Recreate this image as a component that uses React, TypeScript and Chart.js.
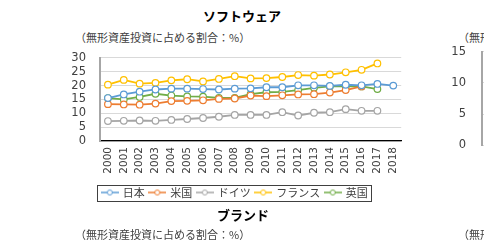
import React, { useEffect, useRef } from "react";
import { Chart, registerables } from "chart.js";
Chart.register(...registerables);

const years = ["2000","2001","2002","2003","2004","2005","2006","2007","2008","2009","2010","2011","2012","2013","2014","2015","2016","2017","2018"];
const japan = [15.5,16.8,17.8,18.6,18.9,18.9,18.75,18.6,18.9,19.0,19.4,19.4,20.1,20.1,19.9,20.3,20.1,20.6,20.0];
const usa = [13.3,13.2,13.1,13.5,14.4,14.5,14.7,15.2,15.35,16.4,16.2,16.5,16.8,16.9,17.5,18.4,19.7,null,null];
const germany = [7.2,7.3,7.4,7.3,7.6,7.95,8.3,8.75,9.4,9.4,9.4,10.4,9.2,10.2,10.4,11.5,10.9,10.9,null];
const france = [20.35,22.06,20.7,21.0,21.9,22.3,21.5,22.4,23.4,22.6,22.7,23.1,23.8,23.6,24.0,24.8,25.7,28.0,null];
const uk = [15.5,15.0,15.9,17.05,16.4,16.1,16.0,15.6,15.6,16.9,17.6,17.7,18.4,19.2,19.7,19.7,19.7,18.75,null];
const seriesNames = ["日本","米国","ドイツ","フランス","英国"];
const seriesColors = ["#5B9BD5","#ED7D31","#A5A5A5","#FFC000","#70AD47"];
const yTicks1 = [0,5,10,15,20,25,30];
const yTicks2 = [0,5,10,15];

const TICK_FONT = "'DejaVu Sans', 'Noto Sans CJK JP', sans-serif";
const JP_FONT = "'Noto Sans CJK JP', sans-serif";

function legendMarker(color: string) {
  const c = document.createElement("canvas");
  c.width = 18; c.height = 8;
  const ctx = c.getContext("2d")!;
  ctx.strokeStyle = color; ctx.lineWidth = 1.5;
  ctx.beginPath(); ctx.moveTo(0, 4); ctx.lineTo(18, 4); ctx.stroke();
  ctx.fillStyle = "#fff"; ctx.lineWidth = 1;
  ctx.beginPath(); ctx.arc(9, 4, 2.5, 0, Math.PI * 2); ctx.fill(); ctx.stroke();
  return c;
}

const legendBorder = {
  id: "legendBorder",
  afterDraw(chart: any) {
    const lg = chart.legend;
    if (!lg || !lg.legendHitBoxes || !lg.legendHitBoxes.length) return;
    const hb = lg.legendHitBoxes;
    const first = hb[0], last = hb[hb.length - 1];
    const cy = first.top + first.height / 2;
    const ctx = chart.ctx;
    ctx.save();
    ctx.strokeStyle = "#404040"; ctx.lineWidth = 1;
    const x0 = Math.round(first.left - 5) + 0.5;
    const x1 = Math.round(last.left + last.width + 3) + 0.5;
    ctx.strokeRect(x0, Math.round(cy - 8) + 0.5, x1 - x0, 16);
    ctx.restore();
  },
};

export default function App() {
  const ref1 = useRef<HTMLCanvasElement>(null);
  const ref2 = useRef<HTMLCanvasElement>(null);
  useEffect(() => {
    const data = [japan, usa, germany, france, uk];
    const c1 = new Chart(ref1.current!, {
      type: "line",
      data: {
        labels: years,
        datasets: data.map((d, i) => ({
          label: seriesNames[i],
          data: d,
          borderColor: seriesColors[i],
          backgroundColor: "#ffffff",
          borderWidth: 1.8,
          pointRadius: 3.3,
          pointBorderWidth: 1.2,
          pointBackgroundColor: "#ffffff",
          pointBorderColor: seriesColors[i],
          pointStyle: "circle",
          tension: 0,
          spanGaps: false,
        })),
      },
      options: {
        animation: false,
        responsive: false,
        maintainAspectRatio: false,
        layout: { padding: { top: 0, left: 0, right: 0, bottom: 0 } },
        plugins: {
          tooltip: { enabled: false },
          title: { display: false },
          legend: {
            position: "bottom",
            labels: {
              usePointStyle: true,
              pointStyleWidth: 15,
              padding: 5,
              color: "#404040",
              font: { family: JP_FONT, size: 11 },
              generateLabels: (chart: any) =>
                chart.data.datasets.map((ds: any, i: number) => ({
                  text: ds.label,
                  pointStyle: legendMarker(seriesColors[i]),
                  fillStyle: seriesColors[i],
                  strokeStyle: seriesColors[i],
                  lineWidth: 0,
                  hidden: false,
                  datasetIndex: i,
                  fontColor: "#404040",
                })),
            },
          },
        },
        scales: {
          x: {
            type: "category",
            offset: true,
            grid: { display: false, drawTicks: false },
            border: { display: true, color: "#000000", width: 1.3 },
            ticks: {
              minRotation: 90, maxRotation: 90, autoSkip: false, padding: 6,
              color: "#404040",
              font: { family: TICK_FONT, size: 10.5 },
            },
            afterFit: (s: any) => { s.height = 41; },
          },
          y: {
            min: 0, max: 30,
            afterBuildTicks: (s: any) => { s.ticks = yTicks1.map((v) => ({ value: v })); },
            grid: { color: "#d9d9d9", lineWidth: 1, drawTicks: false },
            border: { display: true, color: "#a6a6a6", width: 2 },
            ticks: { autoSkip: false, padding: 14, color: "#404040", font: { family: TICK_FONT, size: 11.5 } },
            afterFit: (s: any) => { s.width = 42; },
          },
        },
      },
      plugins: [legendBorder],
    } as any);

    const c2 = new Chart(ref2.current!, {
      type: "line",
      data: { labels: years, datasets: [] },
      options: {
        animation: false,
        responsive: false,
        maintainAspectRatio: false,
        layout: { padding: { top: 0, left: 0, right: 0, bottom: 12 } },
        plugins: { legend: { display: false }, tooltip: { enabled: false } },
        scales: {
          x: { display: false },
          y: {
            min: 0, max: 15,
            afterBuildTicks: (s: any) => { s.ticks = yTicks2.map((v) => ({ value: v })); },
            grid: { color: "#d9d9d9", lineWidth: 1, drawTicks: false },
            border: { display: true, color: "#a6a6a6", width: 2 },
            ticks: { autoSkip: false, padding: 16, color: "#404040", font: { family: TICK_FONT, size: 11.5 } },
            afterFit: (s: any) => { s.width = 62; },
          },
        },
      },
    } as any);
    return () => { c1.destroy(); c2.destroy(); };
  }, []);

  const abs = (o: any) => ({ position: "absolute" as const, whiteSpace: "nowrap" as const, ...o });
  return (
    <div style={{ position: "fixed", left: 0, top: 0, width: 484, height: 240, overflow: "hidden", background: "#fff" }}>
      <div style={abs({ left: 0, width: 484, top: 6, lineHeight: "20px", textAlign: "center", fontFamily: JP_FONT, fontWeight: 700, fontSize: 13, color: "#000" })}>ソフトウェア</div>
      <div style={abs({ left: 75, top: 29, lineHeight: "16px", fontFamily: JP_FONT, fontSize: 11, color: "#404040" })}>（無形資産投資に占める割合：%）</div>
      <div style={abs({ left: 458, top: 29, lineHeight: "16px", fontFamily: JP_FONT, fontSize: 11, color: "#404040" })}>（無形資産投資に占める割合：%）</div>
      <canvas ref={ref1} width={354} height={171} style={abs({ left: 58, top: 37, width: 354, height: 171 })} />
      <canvas ref={ref2} width={160} height={139} style={abs({ left: 420, top: 29, width: 160, height: 139 })} />
      <div style={abs({ left: 0, width: 486, top: 205, lineHeight: "20px", textAlign: "center", fontFamily: JP_FONT, fontWeight: 700, fontSize: 13, color: "#000" })}>ブランド</div>
      <div style={abs({ left: 75, top: 226, lineHeight: "16px", fontFamily: JP_FONT, fontSize: 11, color: "#404040" })}>（無形資産投資に占める割合：%）</div>
      <div style={abs({ left: 458, top: 226, lineHeight: "16px", fontFamily: JP_FONT, fontSize: 11, color: "#404040" })}>（無形資産投資に占める割合：%）</div>
    </div>
  );
}
